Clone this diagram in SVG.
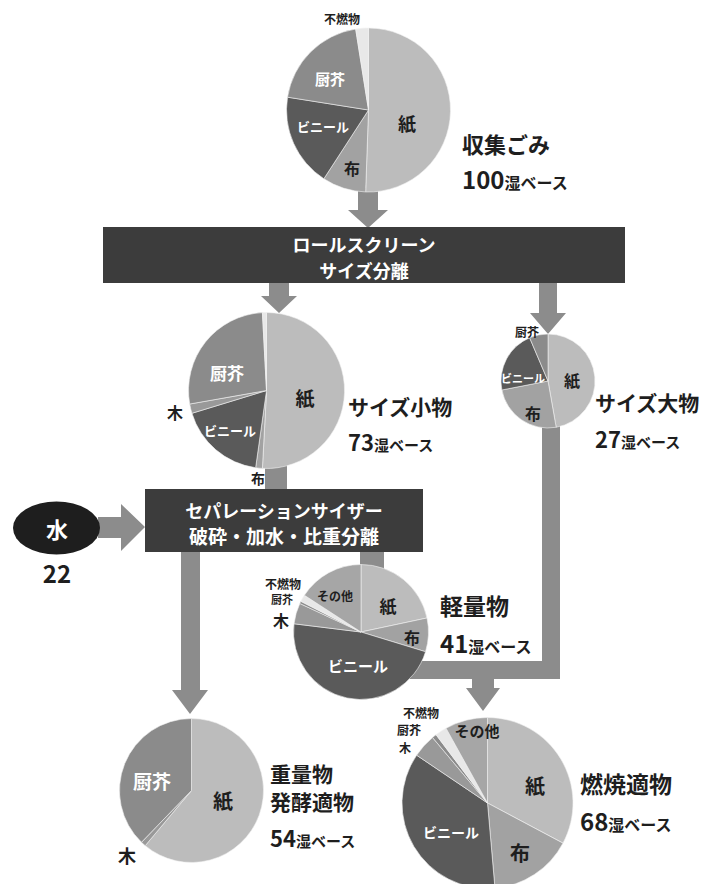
<svg xmlns="http://www.w3.org/2000/svg" width="709" height="884" viewBox="0 0 709 884">
<style>
text{font-family:"Noto Sans CJK JP","Noto Sans",sans-serif;font-weight:bold}
.w{fill:#fff}
.d{fill:#1e1e1e}
.c{text-anchor:middle;dominant-baseline:central}
.conn{fill:#8c8c8c}
.box{fill:#3c3c3c}
.sl{stroke:#f2f2f2;stroke-width:0.6}
.p{fill:#bcbcbc}
.f{fill:#a2a2a2}
.v{fill:#5a5a5a}
.k{fill:#8b8b8b}
.n{fill:#e8e8e8}
.m{fill:#999}
.o{fill:#a6a6a6}
</style>
<rect width="709" height="884" fill="#fff"/>
<g id="connectors" class="conn">
  <path d="M358,188 H378 V210 H388 L368,228 L348,210 H358 Z"/>
  <path d="M269,283 H289 V296 H297 L279,313 L261,296 H269 Z"/>
  <path d="M539,283 H557 V313 H566 L548,334 L530,313 H539 Z"/>
  <rect x="265" y="460" width="22" height="30"/>
  <path d="M98,517 H121 V504 L145,527 L121,551 V538 H98 Z"/>
  <path d="M181,552 H200 V690 H208 L190,714 L172,690 H181 Z"/>
  <rect x="360" y="552" width="24" height="18"/>
  <path d="M542,420 H560 V679 H494 V688 H500 L483,711 L466,688 H472 V679 H400 V661 H542 Z"/>
</g>
<g id="pie-collected">
  <path class="p sl" d="M368.5,110 L368.5,28 A82,82 0 1 1 365.64,191.95 Z"/>
  <path class="f sl" d="M368.5,110 L365.64,191.95 A82,82 0 0 1 323.84,178.77 Z"/>
  <path class="v sl" d="M368.5,110 L323.84,178.77 A82,82 0 0 1 287.51,97.17 Z"/>
  <path class="k sl" d="M368.5,110 L287.51,97.17 A82,82 0 0 1 355.67,29.01 Z"/>
  <path class="n sl" d="M368.5,110 L355.67,29.01 A82,82 0 0 1 368.5,28 Z"/>
  <text class="c d" x="342" y="18" font-size="12">不燃物</text>
  <text class="c w" x="330" y="78" font-size="15">厨芥</text>
  <text class="c w" x="323" y="126" font-size="13">ビニール</text>
  <text class="c d" x="407" y="123" font-size="18">紙</text>
  <text class="c d" x="352" y="168" font-size="16">布</text>
  <text class="d" x="462" y="153" font-size="22">収集ごみ</text>
  <text class="d" x="462" y="189"><tspan font-size="24">100</tspan><tspan font-size="16">湿ベース</tspan></text>
</g>
<g id="roll-screen">
  <rect class="box" x="103" y="227" width="522" height="56"/>
  <text class="c w" x="364" y="244" font-size="18">ロールスクリーン</text>
  <text class="c w" x="364" y="270" font-size="18">サイズ分離</text>
</g>
<g id="pie-small">
  <path class="p sl" d="M266.5,390.5 L266.5,312.5 A78,78 0 1 1 262.42,468.39 Z"/>
  <path class="f sl" d="M266.5,390.5 L262.42,468.39 A78,78 0 0 1 255.64,467.74 Z"/>
  <path class="v sl" d="M266.5,390.5 L255.64,467.74 A78,78 0 0 1 191.91,413.31 Z"/>
  <path class="m sl" d="M266.5,390.5 L191.91,413.31 A78,78 0 0 1 189.69,404.04 Z"/>
  <path class="k sl" d="M266.5,390.5 L189.69,404.04 A78,78 0 0 1 262.42,312.61 Z"/>
  <path class="n sl" d="M266.5,390.5 L262.42,312.61 A78,78 0 0 1 266.5,312.5 Z"/>
  <text class="c w" x="227" y="372" font-size="17">厨芥</text>
  <text class="c w" x="230" y="430" font-size="13">ビニール</text>
  <text class="c d" x="305" y="397" font-size="19">紙</text>
  <text class="c d" x="175" y="412" font-size="16">木</text>
  <text class="c d" x="258" y="478" font-size="14">布</text>
  <text class="d" x="348" y="415" font-size="21">サイズ小物</text>
  <text class="d" x="348" y="451"><tspan font-size="22">73</tspan><tspan font-size="15">湿ベース</tspan></text>
</g>
<g id="pie-large">
  <path class="p sl" d="M548,381 L548,334 A47,47 0 0 1 556.16,427.29 Z"/>
  <path class="f sl" d="M548,381 L556.16,427.29 A47,47 0 0 1 501.86,389.97 Z"/>
  <path class="v sl" d="M548,381 L501.86,389.97 A47,47 0 0 1 529.64,337.74 Z"/>
  <path class="k sl" d="M548,381 L529.64,337.74 A47,47 0 0 1 548,334 Z"/>
  <text class="c d" x="527" y="331" font-size="12">厨芥</text>
  <text class="c w" x="523" y="378" font-size="11">ビニール</text>
  <text class="c d" x="572" y="380" font-size="16">紙</text>
  <text class="c d" x="533" y="413" font-size="16">布</text>
  <text class="d" x="595" y="411" font-size="21">サイズ大物</text>
  <text class="d" x="595" y="448"><tspan font-size="22">27</tspan><tspan font-size="15">湿ベース</tspan></text>
</g>
<g id="water">
  <ellipse cx="56.5" cy="528" rx="43.5" ry="26.5" fill="#1e1e1e"/>
  <text class="c w" x="57" y="528" font-size="22">水</text>
  <text class="c d" x="57" y="572" font-size="24">22</text>
</g>
<g id="separation-sizer">
  <rect class="box" x="145" y="489" width="278" height="63"/>
  <text class="c w" x="284" y="510" font-size="18">セパレーションサイザー</text>
  <text class="c w" x="284" y="535" font-size="19">破砕・加水・比重分離</text>
</g>
<g id="pie-light">
  <path class="p sl" d="M361,632 L361,564.5 A67.5,67.5 0 0 1 427.02,617.97 Z"/>
  <path class="f sl" d="M361,632 L427.02,617.97 A67.5,67.5 0 0 1 425.55,651.74 Z"/>
  <path class="v sl" d="M361,632 L425.55,651.74 A67.5,67.5 0 0 1 294.01,623.77 Z"/>
  <path class="m sl" d="M361,632 L294.01,623.77 A67.5,67.5 0 0 1 299.82,603.47 Z"/>
  <path class="k sl" d="M361,632 L299.82,603.47 A67.5,67.5 0 0 1 300.86,601.35 Z"/>
  <path class="n sl" d="M361,632 L300.86,601.35 A67.5,67.5 0 0 1 304.39,595.24 Z"/>
  <path class="o sl" d="M361,632 L304.39,595.24 A67.5,67.5 0 0 1 361,564.5 Z"/>
  <text class="c d" x="335" y="595" font-size="12">その他</text>
  <text class="c d" x="388" y="605" font-size="17">紙</text>
  <text class="c d" x="412" y="637" font-size="16">布</text>
  <text class="c w" x="358" y="665" font-size="15">ビニール</text>
  <text class="c d" x="283" y="583" font-size="12">不燃物</text>
  <text class="c d" x="282" y="599" font-size="11">厨芥</text>
  <text class="c d" x="281" y="620" font-size="16">木</text>
  <text class="d" x="440" y="615" font-size="23">軽量物</text>
  <text class="d" x="440" y="653"><tspan font-size="24">41</tspan><tspan font-size="16">湿ベース</tspan></text>
</g>
<g id="pie-combustible">
  <path class="p sl" d="M487.5,803 L487.5,717.5 A85.5,85.5 0 0 1 562.99,843.14 Z"/>
  <path class="f sl" d="M487.5,803 L562.99,843.14 A85.5,85.5 0 0 1 494.95,888.17 Z"/>
  <path class="v sl" d="M487.5,803 L494.95,888.17 A85.5,85.5 0 0 1 416.62,755.19 Z"/>
  <path class="m sl" d="M487.5,803 L416.62,755.19 A85.5,85.5 0 0 1 432.54,737.51 Z"/>
  <path class="k sl" d="M487.5,803 L432.54,737.51 A85.5,85.5 0 0 1 436.05,734.72 Z"/>
  <path class="n sl" d="M487.5,803 L436.05,734.72 A85.5,85.5 0 0 1 446.05,728.22 Z"/>
  <path class="o sl" d="M487.5,803 L446.05,728.22 A85.5,85.5 0 0 1 487.5,717.5 Z"/>
  <text class="c d" x="421" y="712" font-size="12">不燃物</text>
  <text class="c d" x="409" y="729.5" font-size="12">厨芥</text>
  <text class="c d" x="405" y="747" font-size="12">木</text>
  <text class="c d" x="477" y="730" font-size="15">その他</text>
  <text class="c d" x="535" y="785" font-size="20">紙</text>
  <text class="c w" x="451" y="832" font-size="14">ビニール</text>
  <text class="c d" x="520" y="852" font-size="20">布</text>
  <text class="d" x="580" y="793" font-size="23">燃焼適物</text>
  <text class="d" x="580" y="831"><tspan font-size="24">68</tspan><tspan font-size="16">湿ベース</tspan></text>
</g>
<g id="pie-heavy">
  <path class="p sl" d="M191.5,790.5 L191.5,718.5 A72,72 0 1 1 145.22,845.65 Z"/>
  <path class="m sl" d="M191.5,790.5 L145.22,845.65 A72,72 0 0 1 141.48,842.29 Z"/>
  <path class="k sl" d="M191.5,790.5 L141.48,842.29 A72,72 0 0 1 191.5,718.5 Z"/>
  <text class="c w" x="152" y="780" font-size="19">厨芥</text>
  <text class="c d" x="223" y="800" font-size="20">紙</text>
  <text class="c d" x="127" y="855" font-size="18">木</text>
  <text class="d" x="270" y="782" font-size="21">重量物</text>
  <text class="d" x="270" y="810" font-size="21">発酵適物</text>
  <text class="d" x="270" y="847"><tspan font-size="22">54</tspan><tspan font-size="15">湿ベース</tspan></text>
</g>
</svg>
